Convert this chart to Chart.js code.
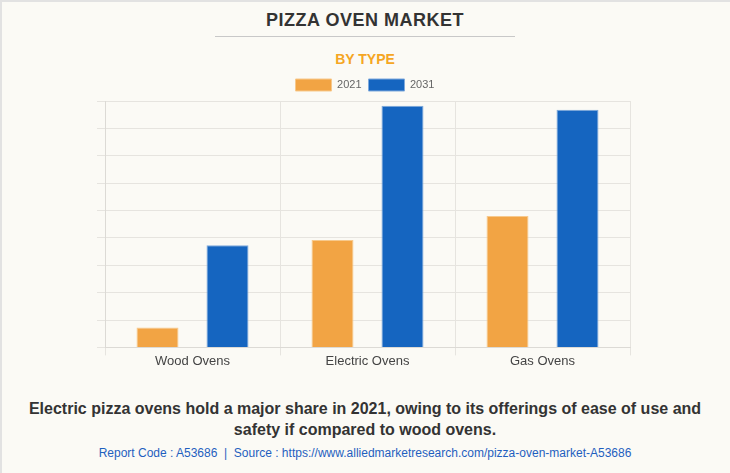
<!DOCTYPE html>
<html>
<head>
<meta charset="utf-8">
<script src="https://cdn.jsdelivr.net/npm/chart.js@4.4.0/dist/chart.umd.min.js"></script>
<style>
  html, body { margin: 0; padding: 0; }
  body {
    width: 730px; height: 473px; overflow: hidden;
    background: #fbfaf5; font-family: "Liberation Sans", Arial, sans-serif;
    position: relative; box-sizing: border-box;
    border-top: 2px solid #e2e2e2; border-left: 2px solid #e2e2e2;
  }
  #title { position: absolute; top: 8px; left: -2px; width: 730px; text-align: center;
    font-size: 18px; font-weight: bold; color: #333; letter-spacing: 0.5px; }
  #rule { position: absolute; top: 34px; left: 213px; width: 300px; height: 1px; background: #c8c8c8; }
  #subtitle { position: absolute; top: 49px; left: -2px; width: 730px; text-align: center;
    font-size: 14px; font-weight: bold; color: #f5a623; }
  #wrap { position: absolute; top: 70px; left: -2px; width: 730px; height: 295px; }
  #caption { position: absolute; top: 396px; left: -2px; width: 730px; text-align: center;
    font-size: 16px; font-weight: bold; color: #333; line-height: 21px; }
  #source { position: absolute; top: 444px; left: -2px; width: 730px; text-align: center;
    font-size: 12px; color: #1f5fbf; }
</style>
</head>
<body>
<div id="title">PIZZA OVEN MARKET</div>
<div id="rule"></div>
<div id="subtitle">BY TYPE</div>
<div id="wrap"><canvas id="barChart"></canvas></div>
<div id="caption">Electric pizza ovens hold a major share in 2021, owing to its offerings of ease of use and<br>safety if compared to wood ovens.</div>
<div id="source">Report Code : A53686 &nbsp;|&nbsp; Source : https://www.alliedmarketresearch.com/pizza-oven-market-A53686</div>
<script>
// Chart data
const categories = ["Wood Ovens", "Electric Ovens", "Gas Ovens"];
const values2021 = [0.73, 3.92, 4.8];
const values2031 = [3.73, 8.83, 8.68];

const ctx = document.getElementById("barChart").getContext("2d");
new Chart(ctx, {
  type: "bar",
  data: {
    labels: categories,
    datasets: [
      {
        label: "2021",
        data: values2021,
        backgroundColor: "#f2a444",
        borderColor: "#f7c98c",
        borderWidth: 1
      },
      {
        label: "2031",
        data: values2031,
        backgroundColor: "#1565c0",
        borderColor: "#7ea9dc",
        borderWidth: 1
      }
    ]
  },
  options: {
    responsive: true,
    maintainAspectRatio: false,
    animation: false,
    categoryPercentage: 0.8,
    barPercentage: 0.6,
    layout: { padding: { left: 100, right: 100, top: 0, bottom: 0 } },
    plugins: {
      legend: {
        labels: {
          boxWidth: 36,
          boxHeight: 12,
          color: "#666",
          font: { family: "Liberation Sans", size: 11 },
          padding: 7
        }
      },
      tooltip: { enabled: false }
    },
    scales: {
      x: {
        grid: { color: "#e6e4df", tickLength: 8 },
        border: { color: "#dcdad5" },
        ticks: {
          color: "#444",
          padding: -2,
          font: { family: "Liberation Sans", size: 13 }
        }
      },
      y: {
        min: 0,
        max: 9,
        grid: { color: "#e6e4df", tickLength: 8 },
        border: { color: "#dcdad5" },
        ticks: { stepSize: 1, callback: function () { return ""; } },
        afterFit: function (scale) { scale.width = 5; }
      }
    }
  }
});
</script>
</body>
</html>
